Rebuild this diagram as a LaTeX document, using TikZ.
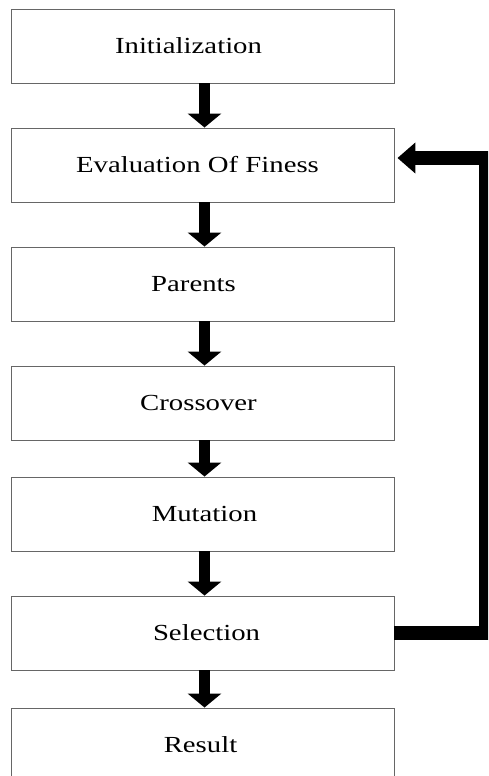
\documentclass[tikz,border=0pt]{standalone}
\usepackage{fontspec}
\setmainfont{Liberation Serif}
\usetikzlibrary{arrows.meta}
\newcommand{\boxtxt}[1]{\scalebox{1.25}[1]{#1}}
\begin{document}
\begin{tikzpicture}[x=1pt,y=-1pt,
  font=\fontsize{23}{28}\selectfont,
  stage/.style={draw=black!60, line width=0.9pt, fill=white,
    minimum width=383pt, minimum height=74pt, inner sep=0pt},
  down/.style={line width=11.4pt, -{Triangle[length=14pt,width=33pt]}},
  fb/.style={line width=14pt, line join=miter, -{Triangle[length=18pt,width=30pt]}}]
\useasboundingbox (0,0) rectangle (488,776);
\clip (0,0) rectangle (488,776);
\fill[white] (0,0) rectangle (488,776);

\node[stage, label={[xshift=-14pt]center:\boxtxt{Initialization}}] (init) at (202.5,46) {};
\node[stage, label={[xshift=-5pt]center:\boxtxt{Evaluation Of Finess}}] (eval) at (202.5,165) {};
\node[stage, label={[xshift=-9pt]center:\boxtxt{Parents}}] (par) at (202.5,284) {};
\node[stage, label={[xshift=-4pt]center:\boxtxt{Crossover}}] (cross) at (202.5,403) {};
\node[stage, label={[xshift=2pt]center:\boxtxt{Mutation}}] (mut) at (202.5,514) {};
\node[stage, label={[xshift=4pt]center:\boxtxt{Selection}}] (sel) at (202.5,633) {};
\node[stage, label={[xshift=-2pt]center:\boxtxt{Result}}] (res) at (202.5,745) {};

\draw[down] ([xshift=2pt]init.south) -- ([xshift=2pt]eval.north);
\draw[down] ([xshift=2pt]eval.south) -- ([xshift=2pt]par.north);
\draw[down] ([xshift=2pt]par.south) -- ([xshift=2pt]cross.north);
\draw[down] ([xshift=2pt]cross.south) -- ([xshift=2pt]mut.north);
\draw[down] ([xshift=2pt]mut.south) -- ([xshift=2pt]sel.north);
\draw[down] ([xshift=2pt]sel.south) -- ([xshift=2pt]res.north);

\coordinate (rt) at (486,0);
\coordinate (tip) at ([xshift=3pt,yshift=7pt]eval.east);
\draw[fb] (sel.east) -- (sel.east -| rt) -- (rt |- tip) -- (tip);
\end{tikzpicture}
\end{document}
